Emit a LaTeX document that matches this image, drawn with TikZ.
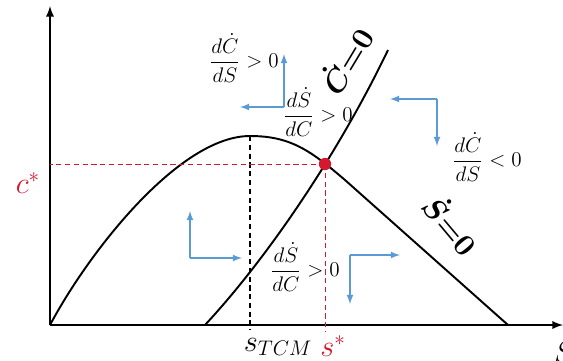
\documentclass[tikz,border=0pt]{standalone}
\usepackage{amsmath,amssymb}
\usepackage{tikz}
\usetikzlibrary{positioning}
\usetikzlibrary{arrows}

\definecolor{flowblue}{RGB}{91,155,213}
\definecolor{eqred}{RGB}{210,25,45}

\begin{document}
\begin{tikzpicture}[
    x=0.02cm, y=-0.02cm,
    axis/.style={line width=1.1pt, black, -latex},
    curve/.style={line width=1.1pt, black},
    guide/.style={densely dashed, line width=0.5pt, eqred},
    peakline/.style={densely dashed, line width=1pt, black},
    flow/.style={line width=0.8pt, flowblue, -latex},
    lbl/.style={font=\large, inner sep=1pt},
    ticklbl/.style={font=\LARGE, inner sep=1pt},
    eqdot/.style={circle, fill=eqred, minimum size=7pt, inner sep=0pt},
]
    \useasboundingbox (0,0) rectangle (563,360);

    % --- Axes ---
    \coordinate (O)    at (50,325);
    \coordinate (Ytop) at (50,6);
    \coordinate (Xend) at (563,325);
    \draw[axis] (O) -- (Ytop);
    \draw[axis] (O) -- (Xend);

    % --- Sdot = 0 (hump) ---
    \coordinate (Speak) at (250,136);
    \coordinate (Sbend) at (345,180);
    \coordinate (Send)  at (508,325);
    \draw[curve] (O) .. controls (90,250) and (180,136) .. (Speak)
                     .. controls (290,136) and (310,150) .. (Sbend) -- (Send);

    % --- Cdot = 0 ---
    \coordinate (Cbot) at (205,325);
    \coordinate (Ctop) at (388,50);
    \draw[curve] (Cbot) .. controls (270,255) and (340,150) .. (Ctop);

    % --- Golden rule line ---
    \coordinate (Sfoot) at (250,330);
    \draw[peakline] (Speak) -- (Sfoot);

    % --- Steady state ---
    \node[eqdot] (E) at (325,164) {};
    \coordinate (Ey) at (50,164);
    \coordinate (Ex) at (325,332);
    \draw[guide] (E.center) -- (Ey);
    \draw[guide] (E.center) -- (Ex);

    % --- Axis labels ---
    \node[ticklbl, text=eqred] (cstar) at (28,183) {$c^{*}$};
    \node[ticklbl] (stcm) at (278,347) {$s_{TCM}$};
    \node[ticklbl, text=eqred] (sstar) at (333,346) {$s^{*}$};
    \node[ticklbl, anchor=west] (Slab) at (552,352) {$S$};

    % --- Locus labels ---
    \node[font=\LARGE, rotate=59] (Clocus) at (345,60) {$\boldsymbol{\dot{C}{=}0}$};
    \node[font=\LARGE, rotate=-50] (Slocus) at (452,224) {$\boldsymbol{\dot{S}{=}0}$};

    % --- Derivative labels ---
    \node[lbl] (dCdSa) at (244,58)  {$\dfrac{d\dot{C}}{dS} > 0$};
    \node[lbl] (dSdCa) at (318,112) {$\dfrac{d\dot{S}}{dC} > 0$};
    \node[lbl] (dCdSb) at (487,157) {$\dfrac{d\dot{C}}{dS} < 0$};
    \node[lbl] (dSdCb) at (305,267) {$\dfrac{d\dot{S}}{dC} > 0$};

    % --- Flow arrows, upper left region ---
    \coordinate (Fa)  at (284,107);
    \coordinate (Fau) at (284,54);
    \coordinate (Fal) at (240,107);
    \draw[flow] (Fa) -- (Fau);
    \draw[flow] (Fa) -- (Fal);

    % --- Flow arrows, right region ---
    \coordinate (Fb)  at (437,99);
    \coordinate (Fbl) at (390,99);
    \coordinate (Fbd) at (437,146);
    \draw[flow] (Fb) -- (Fbl);
    \draw[flow] (Fb) -- (Fbd);

    % --- Flow arrows, lower left region ---
    \coordinate (Fc)  at (190,258);
    \coordinate (Fcu) at (190,211);
    \coordinate (Fcr) at (242,258);
    \draw[flow] (Fc) -- (Fcu);
    \draw[flow] (Fc) -- (Fcr);

    % --- Flow arrows, lower right region ---
    \coordinate (Fd)  at (350,255);
    \coordinate (Fdr) at (400,255);
    \coordinate (Fdd) at (350,304);
    \draw[flow] (Fd) -- (Fdr);
    \draw[flow] (Fd) -- (Fdd);

\end{tikzpicture}
\end{document}
